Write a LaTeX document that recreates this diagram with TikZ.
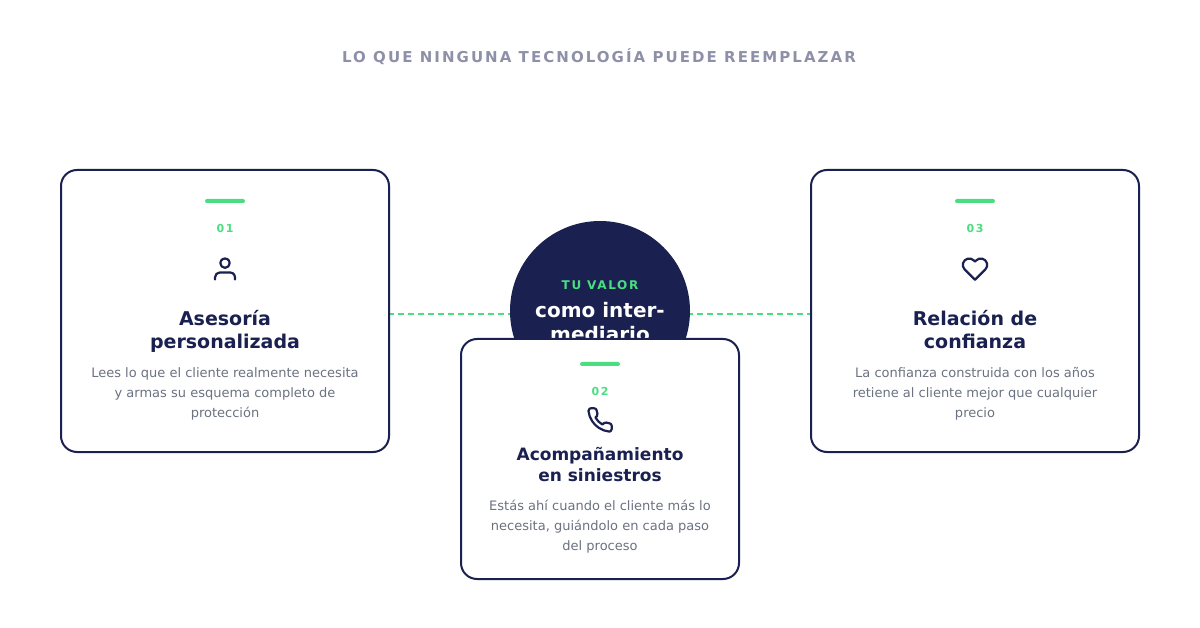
\documentclass[tikz,border=0pt]{standalone}
\usepackage{fontspec}
\usetikzlibrary{svg.path}
\setmainfont{DejaVu Sans}
\pgfdeclarelayer{under}
\pgfsetlayers{under,main}
\definecolor{navy}{HTML}{1A2050}
\definecolor{mint}{HTML}{4ADE80}
\definecolor{graytxt}{HTML}{6B7280}
\definecolor{graytitle}{HTML}{8E90A8}
\newcommand{\spaced}[3]{\fontsize{#1}{#1}\selectfont\addfontfeature{LetterSpace=#2}#3}
\tikzset{
 cardbox/.style={draw=navy,line width=2pt,fill=white,rounded corners=16pt,inner sep=0pt},
 linkline/.style={draw=mint,line width=2.8pt,dash pattern=on 6pt off 4pt},
 bar/.style={fill=mint,rounded corners=2pt,inner sep=0pt,minimum width=40pt,minimum height=4pt},
 numtxt/.style={anchor=base,text=mint,inner sep=0pt,font=\bfseries},
 headtxt/.style={anchor=base,text=navy,inner sep=0pt,font=\bfseries\fontsize{19}{19}\selectfont},
 subhead/.style={anchor=base,text=navy,inner sep=0pt,font=\bfseries\fontsize{17}{17}\selectfont},
 desc/.style={anchor=base,text=graytxt,inner sep=0pt,font=\fontsize{13}{13}\selectfont},
 icon/.style={draw=navy,line width=2.2pt,line cap=round,line join=round},
}
\begin{document}
\begin{tikzpicture}[x=1pt,y=-1pt]
\useasboundingbox (0,0) rectangle (1200,628);
\begin{pgfonlayer}{under}
\fill[white] (0,0) rectangle (1200,628);
\end{pgfonlayer}
\node[anchor=base,text=graytitle,inner sep=0pt,font=\bfseries] (title) at (599,62.5) {\spaced{15}{13.7}{LO QUE NINGUNA TECNOLOGÍA PUEDE REEMPLAZAR}};
% boxes
\node[cardbox,minimum width=328pt,minimum height=282pt] (c1) at (225,311) {};
\node[cardbox,minimum width=328pt,minimum height=282pt] (c3) at (975,311) {};
\node[circle,fill=navy,minimum size=180pt,inner sep=0pt] (hub) at (600,311) {};
\begin{pgfonlayer}{under}
\draw[linkline] ([xshift=-2pt,yshift=-3pt]c1.east) -- ([yshift=-3pt]hub.west);
\draw[linkline] ([xshift=-3pt,yshift=-3pt]hub.east) -- ([yshift=-3pt]c3.west);
\end{pgfonlayer}
\node[anchor=base,text=mint,inner sep=0pt,font=\bfseries] (hl) at (600,290) {\spaced{12}{14}{TU VALOR}};
\node[anchor=base,text=white,inner sep=0pt,font=\bfseries\fontsize{20}{20}\selectfont] (h1) at (600,318) {como inter-};
\node[anchor=base,text=white,inner sep=0pt,font=\bfseries\fontsize{20}{20}\selectfont] (h2) at (600,342) {mediario};
\node[cardbox,minimum width=278pt,minimum height=240pt] (c2) at (600,459) {};
% card 1
\node[bar] (b1) at (225,201) {};
\node[numtxt] (n1) at (225,233) {\spaced{11}{14}{01}};
\begin{scope}[shift={(211,255)}]
\draw[icon,yscale=-1,scale=1.167] svg "M 20.5 21 v -2 a 4 4 0 0 0 -4 -4 H 7.5 a 4 4 0 0 0 -4 4 v 2";
\draw[icon,yscale=-1,scale=1.167] svg "M 16 7 a 4 4 0 0 0 -4 -4 a 4 4 0 0 0 -4 4 a 4 4 0 0 0 4 4 a 4 4 0 0 0 4 -4 z";
\end{scope}
\node[headtxt] (t1a) at (225,326) {Asesoría};
\node[headtxt] (t1b) at (225,349) {personalizada};
\node[desc] (d1a) at (225,377.5) {Lees lo que el cliente realmente necesita};
\node[desc] (d1b) at (225,397.5) {y armas su esquema completo de};
\node[desc] (d1c) at (225,417.5) {protección};
% card 2
\node[bar] (b2) at (600,364) {};
\node[numtxt] (n2) at (600,395.4) {\spaced{11}{14}{02}};
\begin{scope}[shift={(586,406)}]
\draw[icon,yscale=-1,scale=1.167] svg "M 22 16.92 v 3 a 2 2 0 0 1 -2.18 2 a 19.79 19.79 0 0 1 -8.63 -3.07 a 19.5 19.5 0 0 1 -6 -6 a 19.79 19.79 0 0 1 -3.07 -8.67 A 2 2 0 0 1 4.11 2 h 3 a 2 2 0 0 1 2 1.72 a 12.84 12.84 0 0 0 0.7 2.81 a 2 2 0 0 1 -0.45 2.11 L 8.09 9.91 a 16 16 0 0 0 6 6 l 1.27 -1.27 a 2 2 0 0 1 2.11 -0.45 a 12.84 12.84 0 0 0 2.81 0.7 A 2 2 0 0 1 22 16.92 z";
\end{scope}
\node[subhead] (t2a) at (600,460) {Acompañamiento};
\node[subhead] (t2b) at (600,481) {en siniestros};
\node[desc] (d2a) at (600,510.5) {Estás ahí cuando el cliente más lo};
\node[desc] (d2b) at (600,530.5) {necesita, guiándolo en cada paso};
\node[desc] (d2c) at (600,550.5) {del proceso};
% card 3
\node[bar] (b3) at (975,201) {};
\node[numtxt] (n3) at (975,233) {\spaced{11}{14}{03}};
\begin{scope}[shift={(961,255)}]
\draw[icon,yscale=-1,scale=1.167] svg "M 20.84 4.61 a 5.5 5.5 0 0 0 -7.78 0 L 12 5.67 l -1.06 -1.06 a 5.5 5.5 0 0 0 -7.78 0 a 5.5 5.5 0 0 0 0 7.78 l 1.06 1.06 L 12 21.23 l 7.78 -7.78 l 1.06 -1.06 a 5.5 5.5 0 0 0 0 -7.78 z";
\end{scope}
\node[headtxt] (t3a) at (975,326) {Relación de};
\node[headtxt] (t3b) at (975,349) {confianza};
\node[desc] (d3a) at (975,377.5) {La confianza construida con los años};
\node[desc] (d3b) at (975,397.5) {retiene al cliente mejor que cualquier};
\node[desc] (d3c) at (975,417.5) {precio};
\end{tikzpicture}
\end{document}
